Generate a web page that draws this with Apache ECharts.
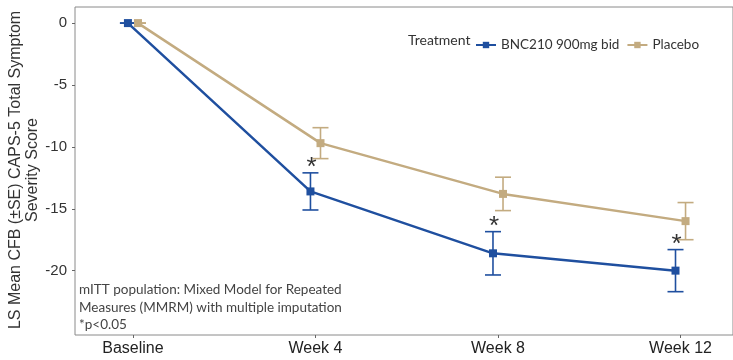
<!DOCTYPE html>
<html><head><meta charset="utf-8">
<script src="https://cdn.jsdelivr.net/npm/echarts@6/dist/echarts.min.js"></script>
<style>html,body{margin:0;padding:0;background:#fff}#c{width:733px;height:360px}</style>
</head><body><div id="c"></div>
<script>
const weeks = [0, 4, 8, 12];
const tickLabels = ['Baseline', 'Week 4', 'Week 8', 'Week 12'];
const seriesNames = ['BNC210 900mg bid', 'Placebo'];
const bncMean = [0, -13.6, -18.6, -20.0];
const bncSE = [0, 1.5, 1.75, 1.7];
const plaMean = [0, -9.7, -13.8, -16.0];
const plaSE = [0, 1.25, 1.35, 1.5];
const significant = [false, true, true, true];
const yTicks = [0, -5, -10, -15, -20];
const noteLines = ['mITT population: Mixed Model for Repeated', 'Measures (MMRM) with multiple imputation', '*p<0.05'];

const BLUE = '#1f4f9f', TAN = '#c3ab80';
const DODGE = 0.11;

function pts(mean, off) { return weeks.map((w, i) => [w + off, mean[i]]); }
function errData(mean, se, off) { return weeks.map((w, i) => [w + off, mean[i] - se[i], mean[i] + se[i]]); }

function errRender(color) {
  return function (params, api) {
    const x = api.value(0), lo = api.value(1), hi = api.value(2);
    const pLo = api.coord([x, lo]), pHi = api.coord([x, hi]);
    const hw = 8;
    const st = { stroke: color, lineWidth: 1.6 };
    return { type: 'group', children: [
      { type: 'line', shape: { x1: pLo[0], y1: pLo[1], x2: pHi[0], y2: pHi[1] }, style: st },
      { type: 'line', shape: { x1: pLo[0] - hw, y1: pLo[1], x2: pLo[0] + hw, y2: pLo[1] }, style: st },
      { type: 'line', shape: { x1: pHi[0] - hw, y1: pHi[1], x2: pHi[0] + hw, y2: pHi[1] }, style: st }
    ]};
  };
}

const starData = weeks.map((w, i) => [w - DODGE, bncMean[i] + bncSE[i], significant[i] ? 1 : 0]).filter(d => d[2]);

const chart = echarts.init(document.getElementById('c'), null, { renderer: 'canvas' });
chart.setOption({
  animation: false,
  backgroundColor: '#fff',
  grid: { left: 75, right: -3, top: 7, bottom: 25, show: true, borderColor: '#8a8a8a', borderWidth: 1, backgroundColor: 'transparent' },
  xAxis: {
    type: 'value', min: -1.27, max: 13.15,
    splitLine: { show: false },
    axisLine: { show: false, onZero: false },
    axisTick: { show: true, customValues: weeks, length: 3, lineStyle: { color: '#666' } },
    axisLabel: { customValues: weeks, formatter: v => tickLabels[weeks.indexOf(v)] || '', color: '#222', fontSize: 16, fontFamily: 'Liberation Sans, Arial', margin: 6 }
  },
  yAxis: {
    type: 'value', min: -25.2, max: 1.3,
    splitLine: { show: false },
    axisLine: { show: false, onZero: false },
    axisTick: { show: true, customValues: yTicks, length: 3, lineStyle: { color: '#666' } },
    axisLabel: { customValues: yTicks, color: '#333', fontSize: 15, fontFamily: 'Liberation Sans, Arial', margin: 8 }
  },
  legend: {
    left: 470, top: 33, itemWidth: 20, itemHeight: 8, itemGap: 7,
    textStyle: { fontFamily: 'Lato', fontSize: 13.5, color: '#333' },
    data: seriesNames
  },
  graphic: [
    { type: 'text', left: 408, top: 33, style: { text: 'Treatment', font: '14px Lato', fill: '#333' } },
    { type: 'text', x: 24, y: 170, rotation: Math.PI / 2, style: { text: 'LS Mean CFB (±SE) CAPS-5 Total Symptom\nSeverity Score', font: '16px "Liberation Sans", Arial', fill: '#333', align: 'center', verticalAlign: 'middle', lineHeight: 17 } },
    { type: 'text', left: 79, top: 281, style: { text: noteLines.join('\n'), font: '13.5px Lato', fill: '#444', lineHeight: 17.5 } }
  ],
  series: [
    { type: 'custom', name: 'errB', renderItem: errRender(BLUE), data: errData(bncMean, bncSE, -DODGE), z: 3, silent: true },
    { type: 'custom', name: 'errP', renderItem: errRender(TAN), data: errData(plaMean, plaSE, DODGE), z: 2, silent: true },
    { type: 'line', name: seriesNames[1], data: pts(plaMean, DODGE), color: TAN, lineStyle: { width: 2.5, color: TAN }, symbol: 'rect', symbolSize: 8, itemStyle: { color: TAN }, z: 4 },
    { type: 'line', name: seriesNames[0], data: pts(bncMean, -DODGE), color: BLUE, lineStyle: { width: 2.5, color: BLUE }, symbol: 'rect', symbolSize: 8, itemStyle: { color: BLUE }, z: 5 },
    { type: 'custom', name: 'stars', silent: true, data: starData, z: 6,
      renderItem: function (params, api) {
        const p = api.coord([api.value(0), api.value(1)]);
        return { type: 'text', x: p[0] + 1, y: p[1] + 8, style: { text: '*', font: '26px "Liberation Sans", Arial', fill: '#333', align: 'center', verticalAlign: 'bottom' } };
      } }
  ]
});
</script></body></html>
